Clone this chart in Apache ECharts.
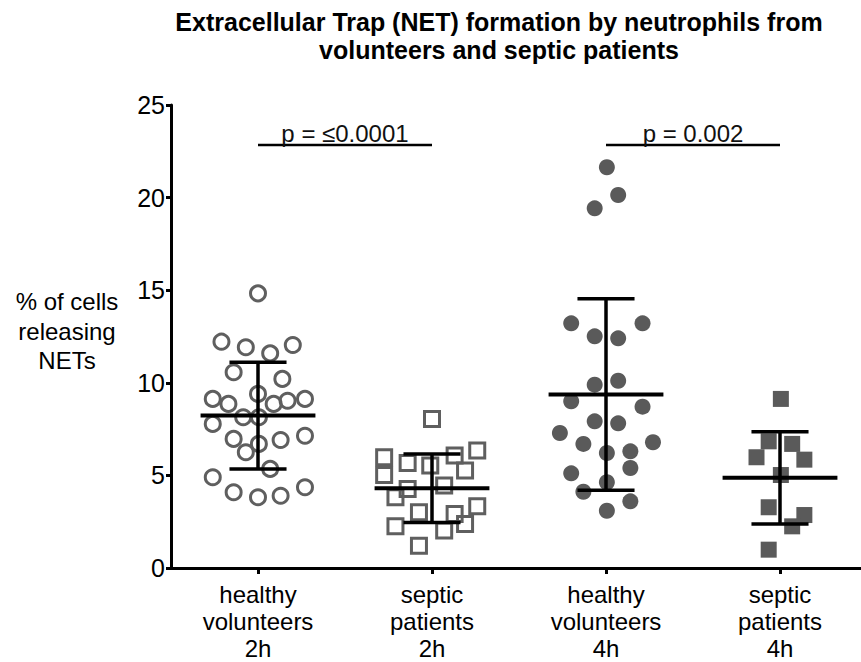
<!DOCTYPE html>
<html>
<head>
<meta charset="utf-8">
<style>
  html, body { margin: 0; padding: 0; background: #fff; }
  #chart { width: 861px; height: 662px; }
</style>
<script src="https://cdn.jsdelivr.net/npm/echarts@6/dist/echarts.min.js"></script>
</head>
<body>
<div id="chart"></div>
<script>
// ---------- DATA ----------
const categories = ['healthy\nvolunteers\n2h', 'septic\npatients\n2h', 'healthy\nvolunteers\n4h', 'septic\npatients\n4h'];
const yTicks = [0, 5, 10, 15, 20, 25];

const healthy2h = [14.83, 12.22, 11.92, 11.59, 12.04, 10.57, 10.21, 9.40, 9.13, 8.86, 8.86, 9.03, 9.13, 7.78, 8.14, 8.14, 6.97, 6.70, 6.91, 7.14, 6.25, 5.35, 4.90, 4.09, 3.82, 3.90, 4.36];
const healthy2hJitter = [0.00, -0.21, -0.07, 0.07, 0.20, -0.14, 0.14, 0.00, -0.26, -0.17, 0.09, 0.17, 0.27, -0.26, -0.085, 0.005, -0.14, 0.005, 0.13, 0.27, -0.07, 0.07, -0.26, -0.14, 0.00, 0.13, 0.27];

const septic2h = [8.05, 5.98, 5.67, 5.53, 6.07, 6.34, 5.02, 5.26, 4.45, 4.27, 3.82, 3.01, 2.92, 3.33, 2.38, 2.25, 2.02, 1.20];
const septic2hJitter = [0.00, -0.275, -0.14, -0.01, 0.13, 0.26, -0.275, 0.19, 0.07, -0.14, -0.21, -0.075, 0.13, 0.26, 0.19, -0.21, 0.07, -0.075];

const healthy4h = [21.64, 20.14, 19.42, 13.21, 13.21, 12.51, 12.40, 9.90, 10.11, 9.00, 8.71, 7.92, 7.81, 7.29, 6.70, 6.79, 6.21, 6.30, 5.40, 5.11, 4.63, 4.12, 3.60, 3.09];
const healthy4hJitter = [0.005, 0.07, -0.065, -0.20, 0.21, -0.065, 0.07, -0.065, 0.07, -0.20, 0.21, -0.065, 0.07, -0.265, -0.13, 0.27, 0.005, 0.14, 0.14, -0.20, 0.005, -0.13, 0.14, 0.005];

const septic4h = [9.13, 6.84, 6.70, 5.98, 5.85, 5.02, 3.28, 2.86, 2.25, 0.99];
const septic4hJitter = [0.005, -0.065, 0.07, -0.135, 0.14, 0.005, -0.065, 0.14, 0.07, -0.065];

const means = [8.23, 4.31, 9.37, 4.87];
const sds = [2.88, 1.85, 5.17, 2.49];

const comparisons = [[0, 1], [2, 3]];
const pLabels = ['p = \u22640.0001', 'p = 0.002'];

// ---------- STYLE / LAYOUT CONSTANTS ----------
const FONT = '"Liberation Sans", Arial, Helvetica, sans-serif';
const GREY = '#5f5f5f';
const BRACKET_Y = 22.84;
const MEAN_HALF = 0.33;
const CAP_HALF = 0.164;

function pts(values, jitter, idx) {
  return values.map((v, i) => [idx + 1 + jitter[i], v]);
}

const chart = echarts.init(document.getElementById('chart'), null, { renderer: 'svg' });

const option = {
  animation: false,
  backgroundColor: '#fff',
  textStyle: { fontFamily: FONT },
  grid: { left: 171, right: -6, top: 105, bottom: 94, containLabel: false, outerBoundsMode: 'none' },
  graphic: [
    {
      type: 'text', x: 499, y: 36, silent: true,
      style: {
        text: 'Extracellular Trap (NET) formation by neutrophils from\nvolunteers and septic patients',
        font: 'bold 25px ' + FONT, fontSize: 25, fontWeight: 'bold', fontFamily: FONT,
        fill: '#000', align: 'center', verticalAlign: 'middle',
        textAlign: 'center', textVerticalAlign: 'middle', lineHeight: 28
      }
    },
    {
      type: 'text', x: 67, y: 331, silent: true,
      style: {
        text: '% of cells\nreleasing\nNETs',
        font: '24px ' + FONT, fontSize: 24, fontFamily: FONT,
        fill: '#000', align: 'center', verticalAlign: 'middle',
        textAlign: 'center', textVerticalAlign: 'middle', lineHeight: 29.5
      }
    }
  ],
  xAxis: [
    {
      type: 'category', data: categories, gridIndex: 0, position: 'bottom',
      boundaryGap: true,
      axisLine: { show: true, lineStyle: { color: '#000', width: 3 } },
      axisTick: { show: true, alignWithLabel: true, length: 6, lineStyle: { color: '#000', width: 3 } },
      axisLabel: { color: '#000', fontSize: 24, fontFamily: FONT, lineHeight: 27, margin: 13, interval: 0 },
      splitLine: { show: false }
    },
    {
      type: 'value', min: 0.5, max: 4.5, gridIndex: 0, show: false,
      splitLine: { show: false }
    }
  ],
  yAxis: {
    type: 'value', min: yTicks[0], max: yTicks[yTicks.length - 1], interval: 5,
    axisLine: { show: true, lineStyle: { color: '#000', width: 3 } },
    axisTick: { show: true, length: 5, lineStyle: { color: '#000', width: 3 } },
    axisLabel: { color: '#000', fontSize: 25, fontFamily: FONT, margin: 6 },
    splitLine: { show: false }
  },
  series: [
    {
      type: 'scatter', xAxisIndex: 1, symbol: 'circle', symbolSize: 15,
      itemStyle: { color: 'rgba(0,0,0,0)', borderColor: GREY, borderWidth: 3, opacity: 1 },
      emphasis: { disabled: true }, z: 2,
      data: pts(healthy2h, healthy2hJitter, 0)
    },
    {
      type: 'scatter', xAxisIndex: 1, symbol: 'rect', symbolSize: 15,
      itemStyle: { color: 'rgba(0,0,0,0)', borderColor: GREY, borderWidth: 3, opacity: 1 },
      emphasis: { disabled: true }, z: 2,
      data: pts(septic2h, septic2hJitter, 1)
    },
    {
      type: 'scatter', xAxisIndex: 1, symbol: 'circle', symbolSize: 16,
      itemStyle: { color: '#5a5a5a', opacity: 1 },
      emphasis: { disabled: true }, z: 2,
      data: pts(healthy4h, healthy4hJitter, 2)
    },
    {
      type: 'scatter', xAxisIndex: 1, symbol: 'rect', symbolSize: 16,
      itemStyle: { color: '#5a5a5a', opacity: 1 },
      emphasis: { disabled: true }, z: 2,
      data: pts(septic4h, septic4hJitter, 3)
    },
    {
      type: 'custom', xAxisIndex: 1, z: 5, silent: true,
      data: means.map((m, i) => [i + 1, m, sds[i]]),
      renderItem: function (params, api) {
        const x = api.value(0), m = api.value(1), s = api.value(2);
        const pm1 = api.coord([x - MEAN_HALF, m]), pm2 = api.coord([x + MEAN_HALF, m]);
        const top = api.coord([x, m + s]), bot = api.coord([x, m - s]);
        const c1 = api.coord([x - CAP_HALF, m + s]), c2 = api.coord([x + CAP_HALF, m + s]);
        const d1 = api.coord([x - CAP_HALF, m - s]), d2 = api.coord([x + CAP_HALF, m - s]);
        const st = { stroke: '#000', lineWidth: 3.5 };
        return {
          type: 'group',
          children: [
            { type: 'line', shape: { x1: top[0], y1: top[1], x2: bot[0], y2: bot[1] }, style: st },
            { type: 'line', shape: { x1: c1[0], y1: c1[1], x2: c2[0], y2: c2[1] }, style: st },
            { type: 'line', shape: { x1: d1[0], y1: d1[1], x2: d2[0], y2: d2[1] }, style: st },
            { type: 'line', shape: { x1: pm1[0], y1: pm1[1], x2: pm2[0], y2: pm2[1] }, style: { stroke: '#000', lineWidth: 4 } }
          ]
        };
      }
    },
    {
      type: 'custom', xAxisIndex: 1, z: 5, silent: true,
      data: comparisons.map((c, i) => [c[0] + 1, c[1] + 1, i]),
      renderItem: function (params, api) {
        const a = api.coord([api.value(0), BRACKET_Y]);
        const b = api.coord([api.value(1), BRACKET_Y]);
        const label = pLabels[api.value(2)];
        return {
          type: 'group',
          children: [
            { type: 'line', shape: { x1: a[0], y1: a[1], x2: b[0], y2: b[1] }, style: { stroke: '#000', lineWidth: 2.5 } },
            {
              type: 'text', x: (a[0] + b[0]) / 2, y: a[1] - 12,
              style: {
                text: label, fill: '#111', fontSize: 24, fontFamily: FONT,
                align: 'center', verticalAlign: 'middle'
              }
            }
          ]
        };
      }
    }
  ]
};

chart.setOption(option);
</script>
</body>
</html>
